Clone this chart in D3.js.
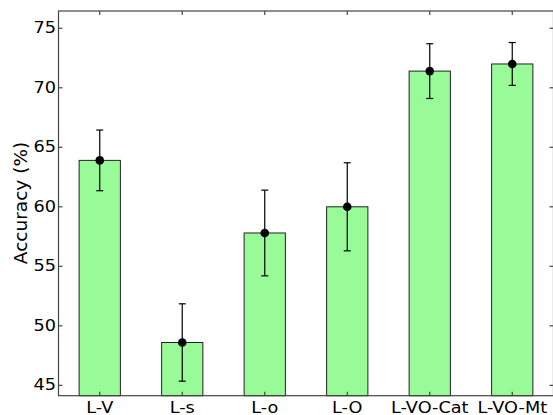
<!DOCTYPE html>
<html><head><meta charset="utf-8">
<script src="https://cdn.jsdelivr.net/npm/d3@7"></script>
<style>html,body{margin:0;padding:0;background:#fff;}svg{display:block;}text{font-family:"DejaVu Sans",sans-serif;fill:#000;}</style>
</head><body>
<div id="chart"></div>
<script>
const categories = ["L-V","L-s","L-o","L-O","L-VO-Cat","L-VO-Mt"];
const accuracy = [63.9, 48.6, 57.8, 60.0, 71.4, 72.0];
const errors = [2.55, 3.25, 3.6, 3.7, 2.3, 1.8];
const yTicks = [45,50,55,60,65,70,75];
const yLabel = "Accuracy (%)";

const W = 553, H = 415;
const m = {left:58.5, top:11, right:-0.5, bottom:19.3};
const svg = d3.select("#chart").append("svg").attr("width",W).attr("height",H);
const pw = W - m.left - m.right, ph = H - m.top - m.bottom;
const x = d3.scaleBand().domain(categories).range([m.left, m.left+pw]).paddingInner(0.5).paddingOuter(0.25);
const y = d3.scaleLinear().domain([44.13, 76.45]).range([m.top+ph, m.top]);
const sx = 1.18;

// bars
svg.selectAll("rect.bar").data(categories).enter().append("rect")
  .attr("class","bar")
  .attr("x", d=>x(d)).attr("width", x.bandwidth())
  .attr("y", (d,i)=>y(accuracy[i])).attr("height",(d,i)=>y.range()[0]-y(accuracy[i]))
  .attr("fill","#98fb98").attr("stroke","#222").attr("stroke-width",1);

// error bars
const eg = svg.append("g");
categories.forEach((c,i)=>{
  const cx = x(c)+x.bandwidth()/2;
  eg.append("line").attr("x1",cx).attr("x2",cx).attr("y1",y(accuracy[i]+errors[i])).attr("y2",y(accuracy[i]-errors[i])).attr("stroke","#000").attr("stroke-width",1.2);
  [accuracy[i]+errors[i], accuracy[i]-errors[i]].forEach(v=>{
    eg.append("line").attr("x1",cx-3.5).attr("x2",cx+3.5).attr("y1",y(v)).attr("y2",y(v)).attr("stroke","#000").attr("stroke-width",1.2);
  });
  eg.append("circle").attr("cx",cx).attr("cy",y(accuracy[i])).attr("r",4.3).attr("fill","#000");
});

// axes (ticks inward)
const x0 = m.left, x1 = m.left+pw, y0 = m.top+ph, y1 = m.top;
const ax = svg.append("g").attr("stroke","#444").attr("stroke-width",1.2);
ax.append("rect").attr("x",x0).attr("y",y1).attr("width",pw).attr("height",ph).attr("fill","none");
yTicks.forEach(t=>{
  ax.append("line").attr("x1",x0).attr("x2",x0+4).attr("y1",y(t)).attr("y2",y(t));
  ax.append("line").attr("x1",x1-4).attr("x2",x1).attr("y1",y(t)).attr("y2",y(t));
  svg.append("text").attr("transform",`translate(${x0-2.5},${y(t)}) scale(${sx},1)`)
    .attr("text-anchor","end").attr("dominant-baseline","central").style("font-size","15px").text(t);
});
categories.forEach(c=>{
  const cx = x(c)+x.bandwidth()/2;
  ax.append("line").attr("x1",cx).attr("x2",cx).attr("y1",y0).attr("y2",y0-4);
  ax.append("line").attr("x1",cx).attr("x2",cx).attr("y1",y1).attr("y2",y1+4);
  svg.append("text").attr("transform",`translate(${cx},${y0+17}) scale(${sx},1)`)
    .attr("text-anchor","middle").style("font-size","15px").text(c);
});
svg.append("text").attr("transform",`translate(26.5,203) rotate(-90)`)
  .attr("text-anchor","middle").style("font-size","18.5px").text(yLabel);
</script>
</body></html>
